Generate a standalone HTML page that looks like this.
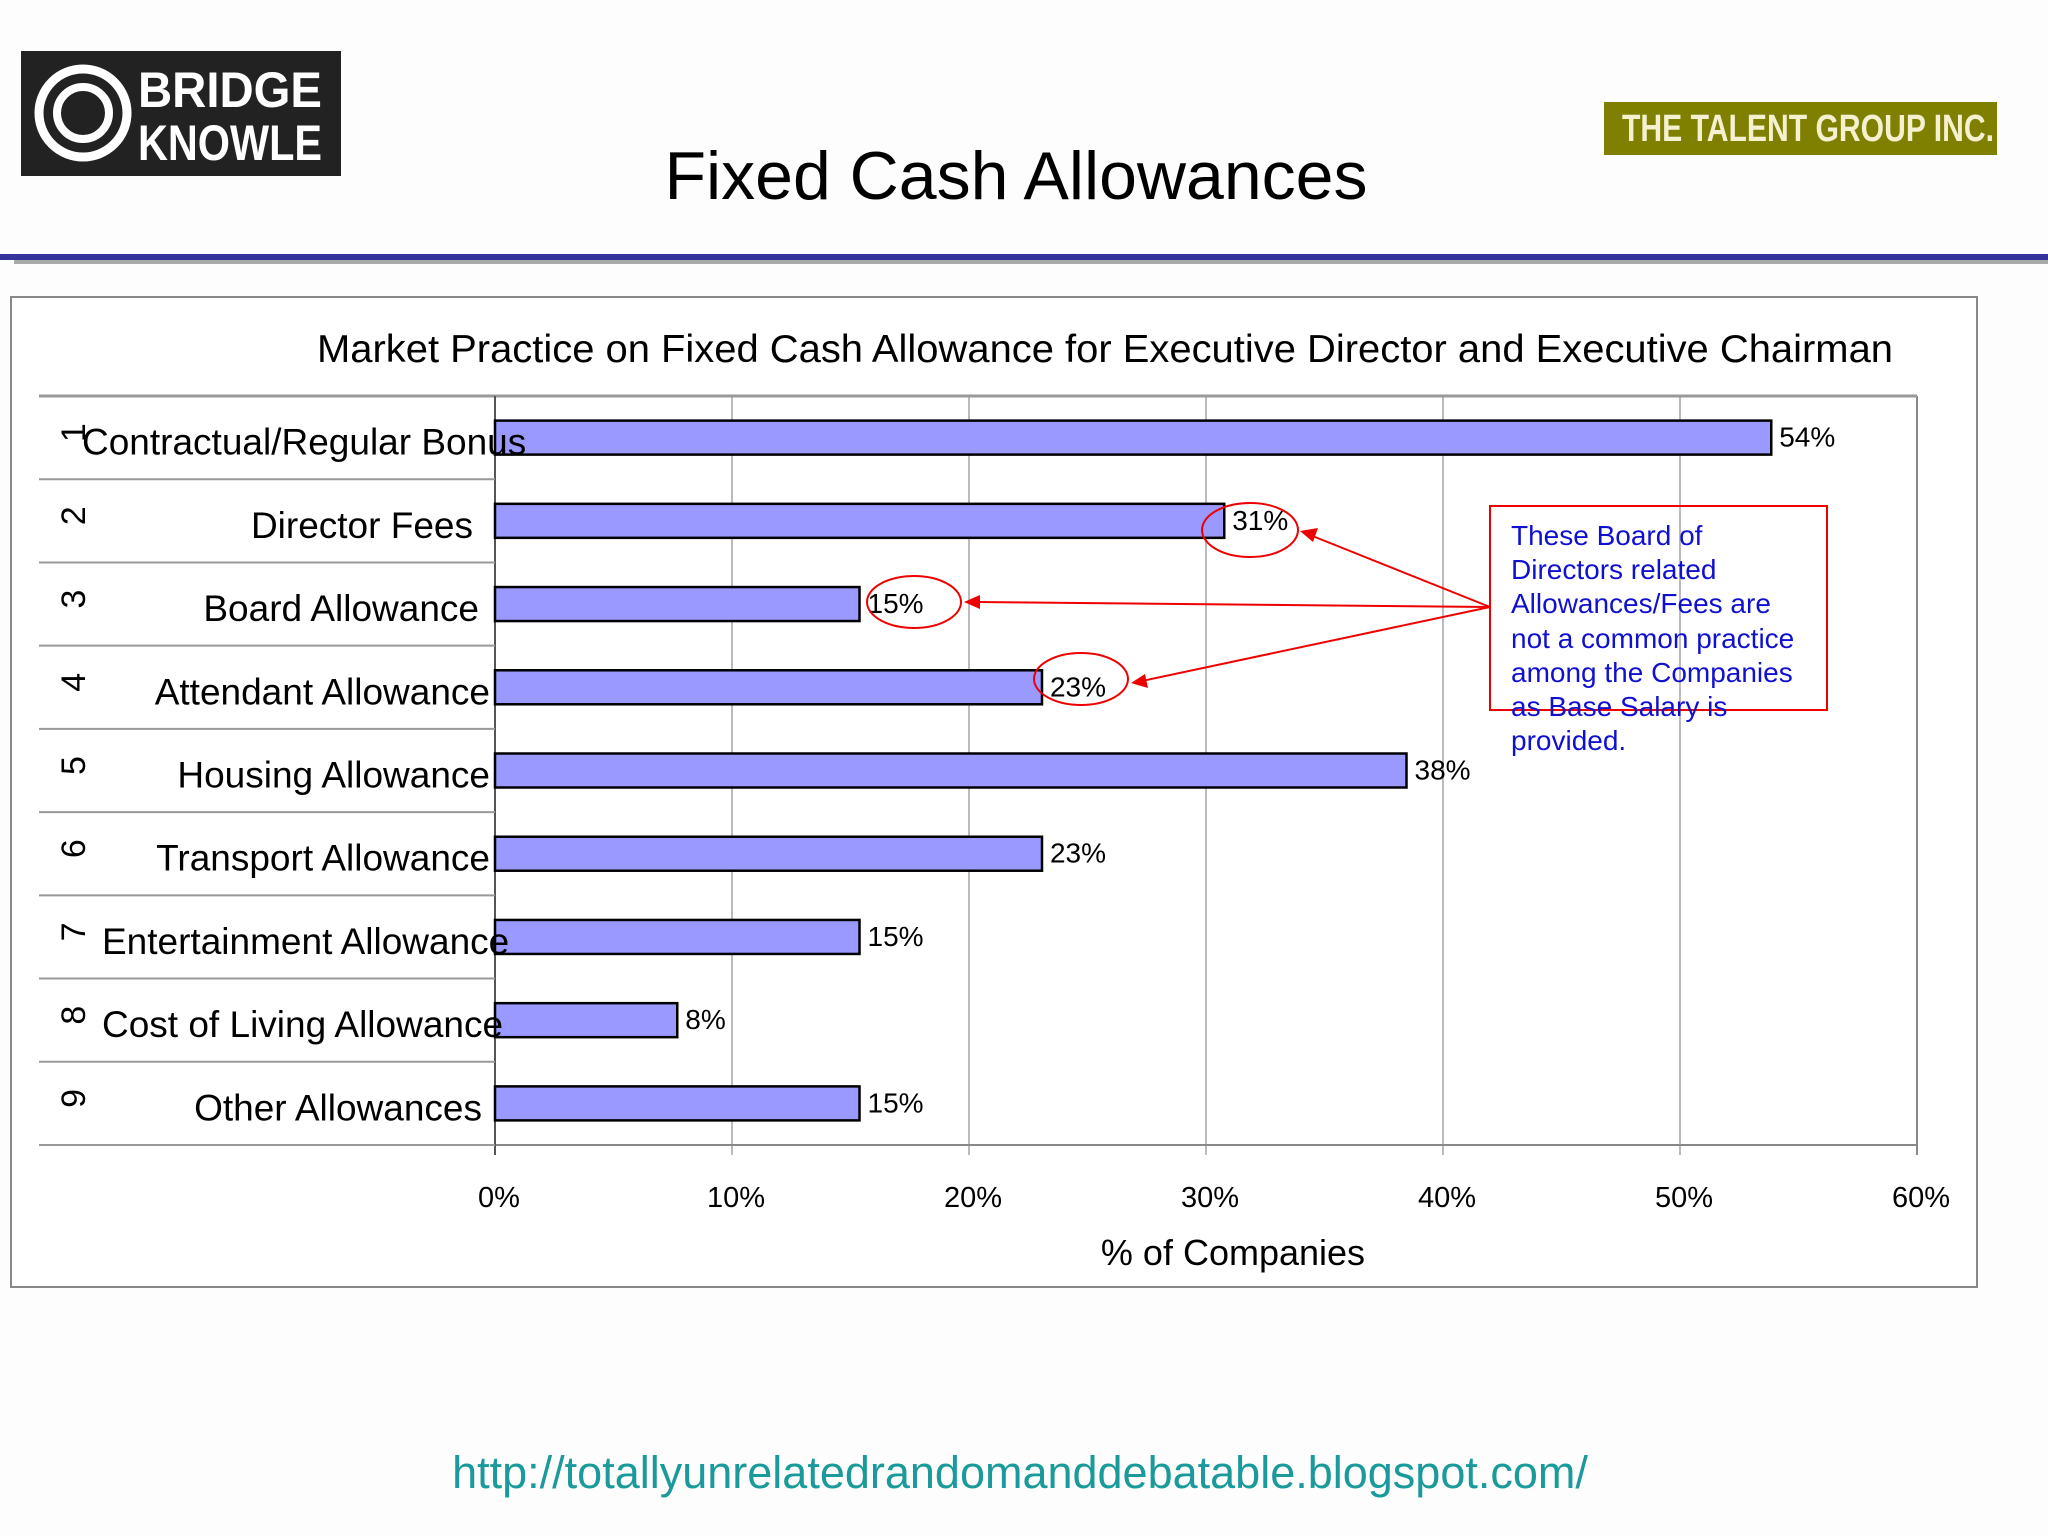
<!DOCTYPE html>
<html><head><meta charset="utf-8"><style>
html,body{margin:0;padding:0;background:#fdfdfd;}
svg{display:block;font-family:"Liberation Sans",Arial,sans-serif;}
</style></head><body>
<svg id="chart" width="2048" height="1536" viewBox="0 0 2048 1536" xmlns="http://www.w3.org/2000/svg">
<rect x="0" y="0" width="2048" height="1536" fill="#fdfdfd"/>
<g>
<rect x="21" y="51" width="320" height="125" fill="#222"/>
<circle cx="83" cy="113" r="44" fill="none" stroke="#fff" stroke-width="9"/>
<circle cx="83" cy="113" r="26" fill="none" stroke="#fff" stroke-width="8"/>
<text x="138" y="107" font-size="50" font-weight="bold" fill="#fff" textLength="184" lengthAdjust="spacingAndGlyphs">BRIDGE</text>
<text x="138" y="160" font-size="50" font-weight="bold" fill="#fff" textLength="184" lengthAdjust="spacingAndGlyphs">KNOWLE</text>
</g>
<g>
<rect x="1604" y="102" width="393" height="53" fill="#808000"/>
<text x="1622" y="141" font-size="38" font-weight="bold" fill="#f4f0d0" textLength="372" lengthAdjust="spacingAndGlyphs">THE TALENT GROUP INC.</text>
</g>
<text x="1016" y="199" font-size="68" text-anchor="middle" fill="#000">Fixed Cash Allowances</text>
<rect x="0" y="254" width="2048" height="6" fill="#333399"/>
<rect x="14" y="260" width="2034" height="4" fill="#aaa"/>
<rect x="11" y="297" width="1966" height="990" fill="#fff" stroke="#888" stroke-width="2"/>
<text x="1105" y="362" font-size="39" text-anchor="middle" fill="#000" textLength="1576" lengthAdjust="spacingAndGlyphs">Market Practice on Fixed Cash Allowance for Executive Director and Executive Chairman</text>
<g id="plot"></g>
<g>
<rect x="1490" y="506" width="337" height="204" fill="none" stroke="#e00" stroke-width="2"/>
<g font-size="28" fill="#1010d0">
<text x="1511" y="545">These Board of</text>
<text x="1511" y="579">Directors related</text>
<text x="1511" y="613">Allowances/Fees are</text>
<text x="1511" y="648">not a common practice</text>
<text x="1511" y="682">among the Companies</text>
<text x="1511" y="716">as Base Salary is</text>
<text x="1511" y="750">provided.</text>
</g>
<g stroke="#e00" stroke-width="2" fill="none">
<line x1="1490" y1="607" x2="1310" y2="535"/>
<line x1="1490" y1="607" x2="976" y2="602"/>
<line x1="1490" y1="607" x2="1142" y2="681"/>
<ellipse cx="1250" cy="530" rx="48" ry="27"/>
<ellipse cx="914" cy="602" rx="47" ry="26"/>
<ellipse cx="1081" cy="679" rx="47" ry="26"/>
</g>
<g fill="#e00">
<polygon points="1300,531 1318,528 1313,542"/>
<polygon points="964,602 980,595 980,609"/>
<polygon points="1131,683 1145,674 1148,688"/>
</g>
</g>
<text x="1020" y="1488" font-size="45" text-anchor="middle" fill="#1a9a9a">http://totallyunrelatedrandomanddebatable.blogspot.com/</text>
</svg>
<script>
const categories = ["Contractual/Regular Bonus","Director Fees","Board Allowance","Attendant Allowance","Housing Allowance","Transport Allowance","Entertainment Allowance","Cost of Living Allowance","Other Allowances"];
const values = [53.85,30.77,15.38,23.08,38.46,23.08,15.38,7.69,15.38];
const ticks = [0,10,20,30,40,50,60];
const tickLabels = ["0%","10%","20%","30%","40%","50%","60%"];
const NS="http://www.w3.org/2000/svg";
const PL=495,PR=1917,PT=396,PB=1145;
const xs=v=>PL+(v/60)*(PR-PL);
const rowH=(PB-PT)/categories.length;
const ys=i=>PT+rowH*i+rowH/2;
const g=document.getElementById('plot');
function mk(t,a){const e=document.createElementNS(NS,t);for(const k in a)e.setAttribute(k,a[k]);g.appendChild(e);return e;}
ticks.forEach((t,i)=>{
  const gl=mk('line',{x1:xs(t),x2:xs(t),y1:PT,y2:PB+10,stroke:i==ticks.length-1?'#888':'#bbb','stroke-width':2});
  
  
  const tl=mk('text',{x:xs(t)+4,y:PB+62,'font-size':29,'text-anchor':'middle',fill:'#000'});
  tl.textContent=tickLabels[i];
  
  
});
const plotTop=mk('line',{x1:39,x2:PR,y1:PT,y2:PT,stroke:'#999','stroke-width':3});


const ax=mk('line',{x1:PL,x2:PR,y1:PB,y2:PB,stroke:'#888','stroke-width':2});


const ay=mk('line',{x1:PL,x2:PL,y1:PT,y2:PB+10,stroke:'#555','stroke-width':2});


categories.forEach((c,i)=>{
  const yc=ys(i);
  const sep=mk('line',{x1:39,x2:PL,y1:PT+rowH*(i+1),y2:PT+rowH*(i+1),stroke:'#999','stroke-width':2});
  
  
  const n=mk('text',{x:0,y:0,'font-size':34,fill:'#000','text-anchor':'middle',transform:`translate(${85},${yc-5}) rotate(-90)`});
  n.textContent=String(i+1);
  
  
  const b=mk('rect',{x:PL,y:yc-17,width:xs(values[i])-PL,height:34,fill:'#9999ff',stroke:'#000','stroke-width':2.5});
  
  
  const v=mk('text',{x:xs(values[i])+8,y:yc+9,'font-size':28,fill:'#000'});
  v.textContent=Math.round(values[i])+'%';
  
  
});
categories.forEach((c,i)=>{
  const yc=ys(i);
  const startAnch = (i===0||i===6||i===7);
  const lb=mk('text',{x:startAnch?(i===0?82:102):490,y:yc+17,'font-size':37,fill:'#000','text-anchor':startAnch?'start':'end'});
  if(i===2) lb.setAttribute('x',479);
  if(i===1) lb.setAttribute('x',473);
  if(i===8) lb.setAttribute('x',482);
  lb.textContent=c;
  
  
});
const xt=mk('text',{x:1233,y:1265,'font-size':36,'text-anchor':'middle',fill:'#000'});
xt.textContent='% of Companies';


</script>
</body></html>
